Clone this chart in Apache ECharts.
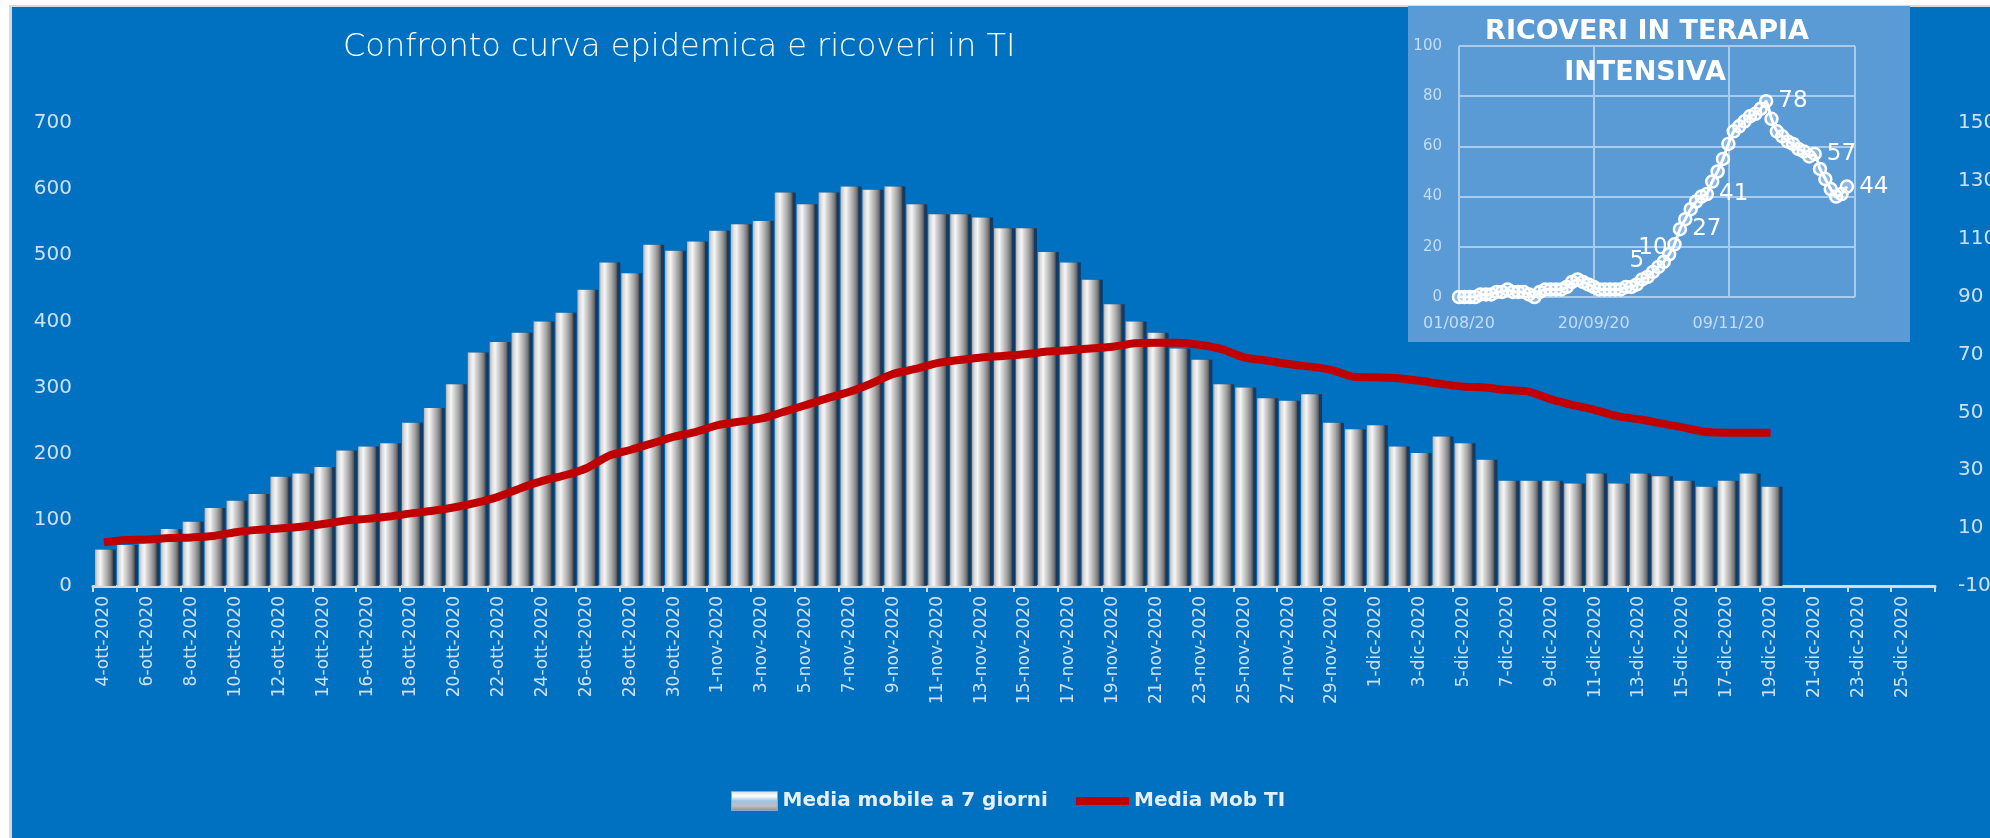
<!DOCTYPE html>
<html>
<head>
<meta charset="utf-8">
<title>Confronto curva epidemica e ricoveri in TI</title>
<script src="https://cdn.jsdelivr.net/npm/echarts@6/dist/echarts.min.js"></script>
<style>
  html, body { margin: 0; padding: 0; background: #fff; width: 1990px; height: 838px; overflow: hidden; }
  #frame { position: absolute; left: 9px; top: 5px; width: 1981px; height: 833px; box-sizing: border-box;
           background: #0070C0; border-left: 3px solid #d9d9d9; border-top: 2px solid #d9d9d9; }
  #main { position: absolute; left: 0; top: 0; width: 1990px; height: 838px; }
  #inset { position: absolute; left: 1408px; top: 6px; width: 502px; height: 336px; background: #5B9BD5; }
</style>
</head>
<body>
<div id="frame"></div>
<div id="main"></div>
<div id="inset"></div>
<script>
// giorni sull'asse x (4 ott - 26 dic 2020)
const giorni = [
  '4-ott-2020', '5-ott-2020', '6-ott-2020', '7-ott-2020', '8-ott-2020', '9-ott-2020', '10-ott-2020',
  '11-ott-2020', '12-ott-2020', '13-ott-2020', '14-ott-2020', '15-ott-2020', '16-ott-2020', '17-ott-2020',
  '18-ott-2020', '19-ott-2020', '20-ott-2020', '21-ott-2020', '22-ott-2020', '23-ott-2020', '24-ott-2020',
  '25-ott-2020', '26-ott-2020', '27-ott-2020', '28-ott-2020', '29-ott-2020', '30-ott-2020', '31-ott-2020',
  '1-nov-2020', '2-nov-2020', '3-nov-2020', '4-nov-2020', '5-nov-2020', '6-nov-2020', '7-nov-2020',
  '8-nov-2020', '9-nov-2020', '10-nov-2020', '11-nov-2020', '12-nov-2020', '13-nov-2020', '14-nov-2020',
  '15-nov-2020', '16-nov-2020', '17-nov-2020', '18-nov-2020', '19-nov-2020', '20-nov-2020', '21-nov-2020',
  '22-nov-2020', '23-nov-2020', '24-nov-2020', '25-nov-2020', '26-nov-2020', '27-nov-2020', '28-nov-2020',
  '29-nov-2020', '30-nov-2020', '1-dic-2020', '2-dic-2020', '3-dic-2020', '4-dic-2020', '5-dic-2020',
  '6-dic-2020', '7-dic-2020', '8-dic-2020', '9-dic-2020', '10-dic-2020', '11-dic-2020', '12-dic-2020',
  '13-dic-2020', '14-dic-2020', '15-dic-2020', '16-dic-2020', '17-dic-2020', '18-dic-2020', '19-dic-2020',
  '20-dic-2020', '21-dic-2020', '22-dic-2020', '23-dic-2020', '24-dic-2020', '25-dic-2020', '26-dic-2020'
];

// media mobile a 7 giorni dei nuovi casi (asse sinistro)
const mediaMobile = [
  55, 62, 65, 86, 97, 118, 129, 139, 165, 170,
  180, 205, 211, 216, 247, 269, 305, 353, 369, 383,
  400, 413, 448, 489, 473, 516, 507, 521, 537, 547,
  552, 595, 577, 595, 604, 599, 604, 577, 562, 562,
  557, 541, 541, 505, 489, 463, 426, 400, 383, 359,
  342, 305, 300, 284, 280, 290, 247, 237, 243, 211,
  201, 226, 216, 191, 159, 159, 159, 155, 170, 155,
  170, 166, 159, 150, 159, 170, 150
];

// media mobile ricoveri in terapia intensiva (asse destro)
const mediaMobTI = [
  5.1, 5.9, 6.1, 6.6, 6.8, 7.3, 8.6, 9.4, 9.9, 10.5,
  11.4, 12.6, 13.2, 14.0, 15.1, 16.0, 17.2, 18.8, 20.9, 23.8,
  26.3, 28.2, 30.7, 34.9, 37.0, 39.3, 41.6, 43.3, 45.6, 46.8,
  47.9, 50.2, 52.5, 54.9, 57.1, 60.0, 63.3, 65.0, 67.0, 68.1,
  69.0, 69.5, 70.1, 71.0, 71.5, 72.1, 72.7, 73.9, 74.1, 74.1,
  73.3, 71.8, 69.0, 67.9, 66.7, 65.8, 64.6, 62.3, 62.1, 61.8,
  60.9, 59.8, 58.9, 58.6, 57.7, 57.1, 54.5, 52.5, 50.8, 48.7,
  47.6, 46.2, 44.8, 43.3, 43.0, 43.0, 43.0
];

// riquadro: ricoveri giornalieri in TI, giorni dal 01/08/20
const insetGiorni = [
  0, 2, 4, 6, 8, 10, 12, 14, 16, 18, 20, 22, 24, 26, 28, 30, 32, 34, 36, 38,
  40, 42, 44, 46, 48, 50, 52, 54, 56, 58, 60, 62, 64, 66, 68, 70, 72, 74, 76, 78,
  80, 82, 84, 86, 88, 90, 92, 94, 96, 98, 100, 102, 104, 106, 108, 110, 112, 114, 116, 118,
  120, 122, 124, 126, 128, 130, 132, 134, 136, 138, 140, 142, 144
];
const insetRicoveri = [
  0, 0, 0, 0, 1, 1, 1, 2, 2, 3, 2, 2, 2, 1, 0, 2, 3, 3, 3, 3,
  4, 6, 7, 6, 5, 4, 3, 3, 3, 3, 3, 4, 4, 5, 7, 8, 10, 12, 14, 17,
  21, 27, 31, 35, 38, 40, 41, 46, 50, 55, 61, 66, 68, 70, 72, 73, 75, 78, 71, 66,
  64, 62, 61, 59, 58, 56, 57, 51, 47, 43, 40, 41, 44
];
const insetEtichette = [66, 72, 82, 92, 114, 132, 144];
const insetTickLabels = ['01/08/20', '20/09/20', '09/11/20'];
const insetTitolo = ['RICOVERI IN TERAPIA', 'INTENSIVA'];

const FONT = 'DejaVu Sans';
const labelColor = '#cfe0f4';

const main = echarts.init(document.getElementById('main'));
main.setOption({
  animation: false,
  title: {
    text: 'Confronto curva epidemica e ricoveri in TI',
    left: 343, top: 32, padding: 0,
    textStyle: { color: '#ffffff', fontFamily: FONT, fontWeight: 300, fontSize: 32 }
  },
  legend: [
    {
      left: 731, top: 791, padding: 0,
      itemWidth: 46, itemHeight: 19, itemGap: 4,
      textStyle: { color: '#e6eef9', fontFamily: FONT, fontWeight: 'bold', fontSize: 20 },
      data: [{
        name: 'Media mobile a 7 giorni', icon: 'rect',
        itemStyle: {
          color: new echarts.graphic.LinearGradient(0, 0, 0, 1, [
            { offset: 0, color: '#d9d9d9' },
            { offset: 0.25, color: '#ffffff' },
            { offset: 0.5, color: '#9dc3e6' },
            { offset: 0.75, color: '#bfbfbf' },
            { offset: 1, color: '#8c8c8c' }
          ]),
          borderColor: '#8ea9c8', borderWidth: 1
        }
      }]
    },
    {
      left: 1076, top: 791, padding: 0,
      itemWidth: 53, itemHeight: 8,
      textStyle: { color: '#e6eef9', fontFamily: FONT, fontWeight: 'bold', fontSize: 20 },
      data: [{ name: 'Media Mob TI', icon: 'rect', itemStyle: { color: '#C00000' } }]
    }
  ],
  grid: { left: 93, right: 55, top: 123, bottom: 252, outerBoundsMode: 'none' },
  xAxis: {
    type: 'category',
    data: giorni,
    boundaryGap: true,
    axisLine: { lineStyle: { color: '#d9d9d9', width: 3 } },
    axisTick: { show: true, interval: 1, length: 6, lineStyle: { color: '#d9d9d9', width: 2 } },
    axisLabel: { interval: 1, rotate: 90, margin: 10, color: labelColor, fontFamily: FONT, fontSize: 17 },
    splitLine: { show: false }
  },
  yAxis: [
    {
      type: 'value', min: 0, max: 700, interval: 100, position: 'left',
      axisLine: { show: false }, axisTick: { show: false }, splitLine: { show: false },
      axisLabel: { margin: 21, color: labelColor, fontFamily: FONT, fontSize: 20 }
    },
    {
      type: 'value', min: -10, max: 150, interval: 20, position: 'right',
      axisLine: { show: false }, axisTick: { show: false }, splitLine: { show: false },
      axisLabel: { margin: 23, color: labelColor, fontFamily: FONT, fontSize: 20 }
    }
  ],
  series: [
    {
      name: 'Media mobile a 7 giorni',
      type: 'bar',
      data: mediaMobile,
      barWidth: 18,
      itemStyle: {
        color: new echarts.graphic.LinearGradient(0, 0, 1, 0, [
          { offset: 0, color: '#b0b0b0' },
          { offset: 0.12, color: '#d9d9d9' },
          { offset: 0.3, color: '#f6f6f6' },
          { offset: 0.45, color: '#d6d6d6' },
          { offset: 0.7, color: '#a6a6a6' },
          { offset: 0.88, color: '#7a7a7a' },
          { offset: 1, color: '#4a4a4a' }
        ]),
        shadowColor: 'rgba(20, 45, 80, 0.8)',
        shadowOffsetX: 3,
        shadowBlur: 0
      }
    },
    {
      name: 'Media Mob TI',
      type: 'line',
      yAxisIndex: 1,
      data: mediaMobTI,
      color: '#C00000',
      smooth: 0.3,
      symbol: 'none',
      lineStyle: { color: '#C00000', width: 8 },
      z: 3
    }
  ]
});

const insetTitleStyle = {
  fill: '#ffffff', font: 'bold 27px "DejaVu Sans"',
  align: 'center', verticalAlign: 'middle', textAlign: 'center', textVerticalAlign: 'middle'
};

const inset = echarts.init(document.getElementById('inset'));
inset.setOption({
  animation: false,
  graphic: [
    { type: 'text', x: 239, y: 26, z: 10, style: Object.assign({ text: insetTitolo[0] }, insetTitleStyle) },
    { type: 'text', x: 237, y: 67, z: 10, style: Object.assign({ text: insetTitolo[1] }, insetTitleStyle) }
  ],
  grid: { left: 51, right: 55, top: 40, bottom: 45, outerBoundsMode: 'none' },
  xAxis: {
    type: 'value', min: 0, max: 147, interval: 50,
    axisLine: { show: false }, axisTick: { show: false },
    splitLine: { show: true, lineStyle: { color: '#a9cbec', width: 2 } },
    axisLabel: {
      margin: 19, color: '#c6dcf2', fontFamily: FONT, fontSize: 16,
      formatter: v => insetTickLabels[Math.round(v / 50)] || ''
    }
  },
  yAxis: {
    type: 'value', min: 0, max: 100, interval: 20,
    axisLine: { show: false }, axisTick: { show: false },
    splitLine: { show: true, lineStyle: { color: '#a9cbec', width: 2 } },
    axisLabel: { margin: 17, color: '#c6dcf2', fontFamily: FONT, fontSize: 15 }
  },
  series: [{
    type: 'line',
    data: insetGiorni.map((g, i) => {
      const item = { value: [g, insetRicoveri[i]] };
      if (insetEtichette.includes(g)) {
        item.label = { show: true, position: g < 80 ? 'top' : 'right' };
      }
      return item;
    }),
    symbol: 'circle',
    symbolSize: 12,
    smooth: 0.2,
    lineStyle: { color: '#ffffff', width: 3 },
    itemStyle: { color: 'rgba(255,255,255,0.3)', borderColor: '#ffffff', borderWidth: 2.5 },
    label: { show: false, color: '#ffffff', fontFamily: FONT, fontSize: 23 }
  }]
});
</script>
</body>
</html>
